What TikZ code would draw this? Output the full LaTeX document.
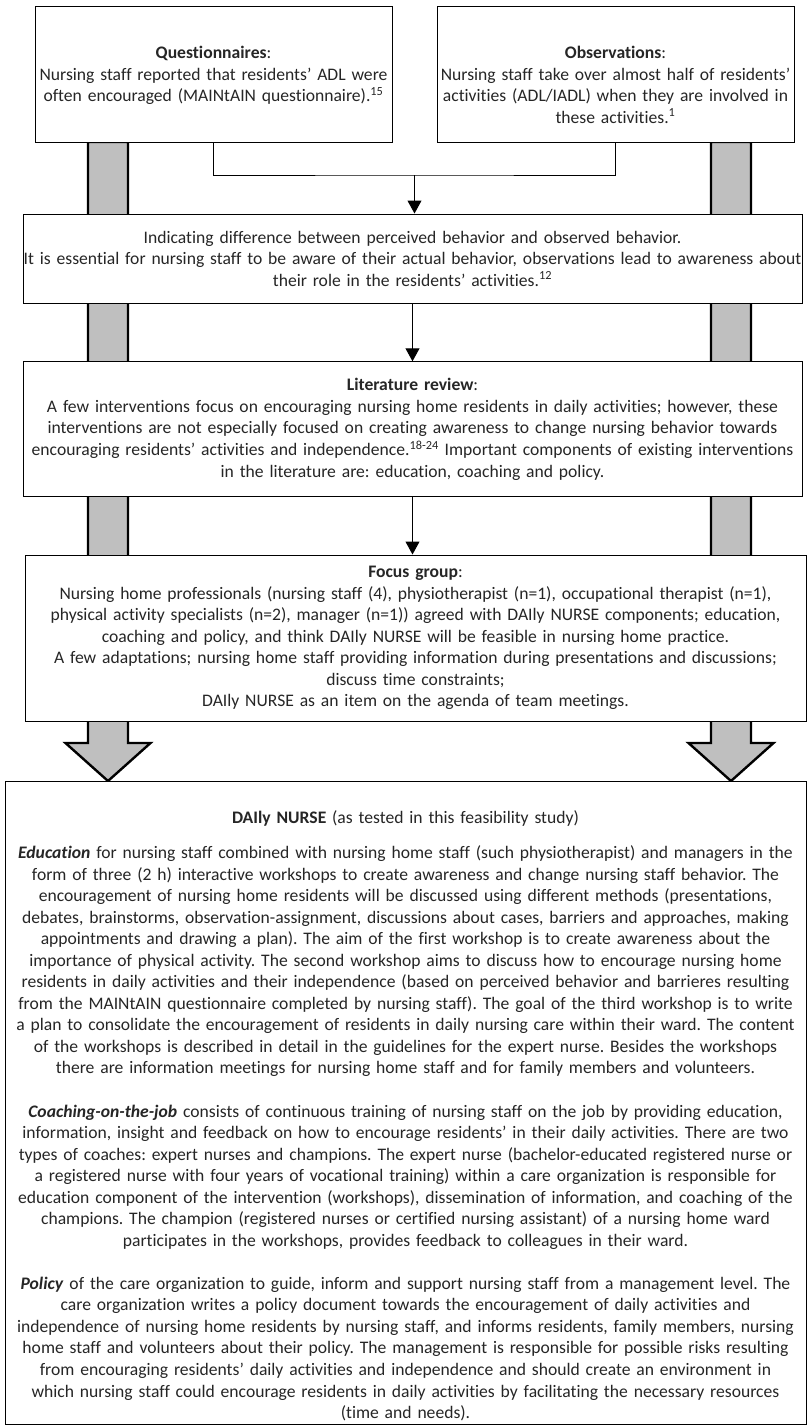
\documentclass[tikz,border=0pt]{standalone}
\usepackage{fontspec}
\setmainfont{Carlito}[Ligatures=NoCommon]
\usetikzlibrary{arrows.meta}
\definecolor{bargray}{RGB}{191,191,191}
\frenchspacing
\begin{document}
\begin{tikzpicture}[x=1pt,y=-1pt,line join=miter,>={Triangle[width=14pt,length=13pt]},
  box/.style={draw,fill=white,line width=1pt,inner xsep=0pt,inner ysep=0pt,align=center,
    font=\fontsize{17.6}{21.54}\selectfont,text=black!85},
  topbox/.style={box,anchor=north,text width=357pt,text height=52pt,text depth=84pt},
  widebox/.style={box,text width=779pt},
  blockarrow/.style={draw,fill=bargray,line width=2.4pt},
  conn/.style={line width=1pt}]
\useasboundingbox (0,0) rectangle (808,1425);
% grey arrows behind the boxes
\foreach \c in {108,731}
  \draw[blockarrow] (\c-20,142) -- (\c-20,743) -- (\c-42.5,743) -- (\c,781)
    -- (\c+42.5,743) -- (\c+20,743) -- (\c+20,142) -- cycle;
\node[topbox] (quest) at (213.5,6) {\textbf{Questionnaires}:\\
  Nursing staff reported that residents’ ADL were\\
  often encouraged (MAINtAIN questionnaire).\textsuperscript{15}};
\node[topbox] (obs) at (615.5,6) {\textbf{Observations}:\\
  Nursing staff take over almost half of residents’\\
  activities (ADL/IADL) when they are involved in\\
  these activities.\textsuperscript{1}};
\node[widebox,minimum height=89pt] (diff) at (412.5,258.5) {Indicating difference between perceived behavior and observed behavior.\\
  It is essential for nursing staff to be aware of their actual behavior, observations lead to awareness about\\
  their role in the residents’ activities.\textsuperscript{12}};
\node[widebox,minimum height=135pt] (lit) at (412.5,429.3) {\textbf{Literature review}:\\
  A few interventions focus on encouraging nursing home residents in daily activities; however, these\\
  interventions are not especially focused on creating awareness to change nursing behavior towards\\
  encouraging residents’ activities and independence.\textsuperscript{18-24} Important components of existing interventions\\
  in the literature are: education, coaching and policy.};
\node[widebox,minimum height=166pt,text width=781pt] (focus) at (415.5,638) {\textbf{Focus group}:\\
  Nursing home professionals (nursing staff (4), physiotherapist (n=1), occupational therapist (n=1),\\
  physical activity specialists (n=2), manager (n=1)) agreed with DAIly NURSE components; education,\\
  coaching and policy, and think DAIly NURSE will be feasible in nursing home practice.\\
  A few adaptations; nursing home staff providing information during presentations and discussions;\\
  discuss time constraints;\\
  DAIly NURSE as an item on the agenda of team meetings.};
\node[box,anchor=north,text width=801pt,text height=42pt,text depth=601pt] (daily) at (405.5,781) {\textbf{DAIly NURSE} (as tested in this feasibility study)\\[13.5pt]
  \textbf{\textit{Education}} for nursing staff combined with nursing home staff (such physiotherapist) and managers in the\\
  form of three (2 h) interactive workshops to create awareness and change nursing staff behavior. The\\
  encouragement of nursing home residents will be discussed using  different methods (presentations,\\
  debates, brainstorms, observation-assignment, discussions about cases, barriers and approaches, making\\
  appointments and drawing a plan). The aim of the first workshop is to create awareness about the\\
  importance of physical activity. The second workshop aims to discuss how to encourage nursing home\\
  residents in daily activities and their independence (based on perceived behavior and barrieres resulting\\
  from the MAINtAIN questionnaire completed by nursing staff). The goal of the third workshop is to write\\
  a plan to consolidate the encouragement of residents in daily nursing care within their ward. The content\\
  of the workshops is described in detail in the guidelines for the expert nurse. Besides the workshops\\
  there are information meetings for nursing home staff and for family members and volunteers.\\[21.54pt]
  \textbf{\textit{Coaching-on-the-job}} consists of continuous training of nursing staff on the job by providing education,\\
  information, insight and feedback on how to encourage residents’ in their daily activities. There are two\\
  types of coaches: expert nurses and champions. The expert nurse (bachelor-educated registered nurse or\\
  a registered nurse with four years of vocational training) within a care organization is responsible for\\
  education component of the intervention (workshops), dissemination of information, and coaching of the\\
  champions. The champion (registered nurses or certified nursing assistant) of a nursing home ward\\
  participates in the workshops, provides feedback to colleagues in their ward.\\[21.54pt]
  \textbf{\textit{Policy}} of the care organization to guide, inform and support nursing staff from a management level. The\\
  care organization writes a policy document towards the encouragement of daily activities and\\
  independence of nursing home residents by nursing staff, and informs residents, family members, nursing\\
  home staff and volunteers about their policy. The management is responsible for possible risks resulting\\
  from encouraging residents’ daily activities and independence and should create an environment in\\
  which nursing staff could encourage residents in daily activities by facilitating the necessary resources\\
  (time and needs).};
\coordinate (join) at (414.5,175);
\draw[conn] (quest.south) |- (join) -| (obs.south);
\draw[conn,->] (join) -- (join |- diff.north);
\draw[conn,->] (diff.south) -- (lit.north);
\draw[conn,->] (lit.south) -- (lit.south |- focus.north);
\end{tikzpicture}
\end{document}
